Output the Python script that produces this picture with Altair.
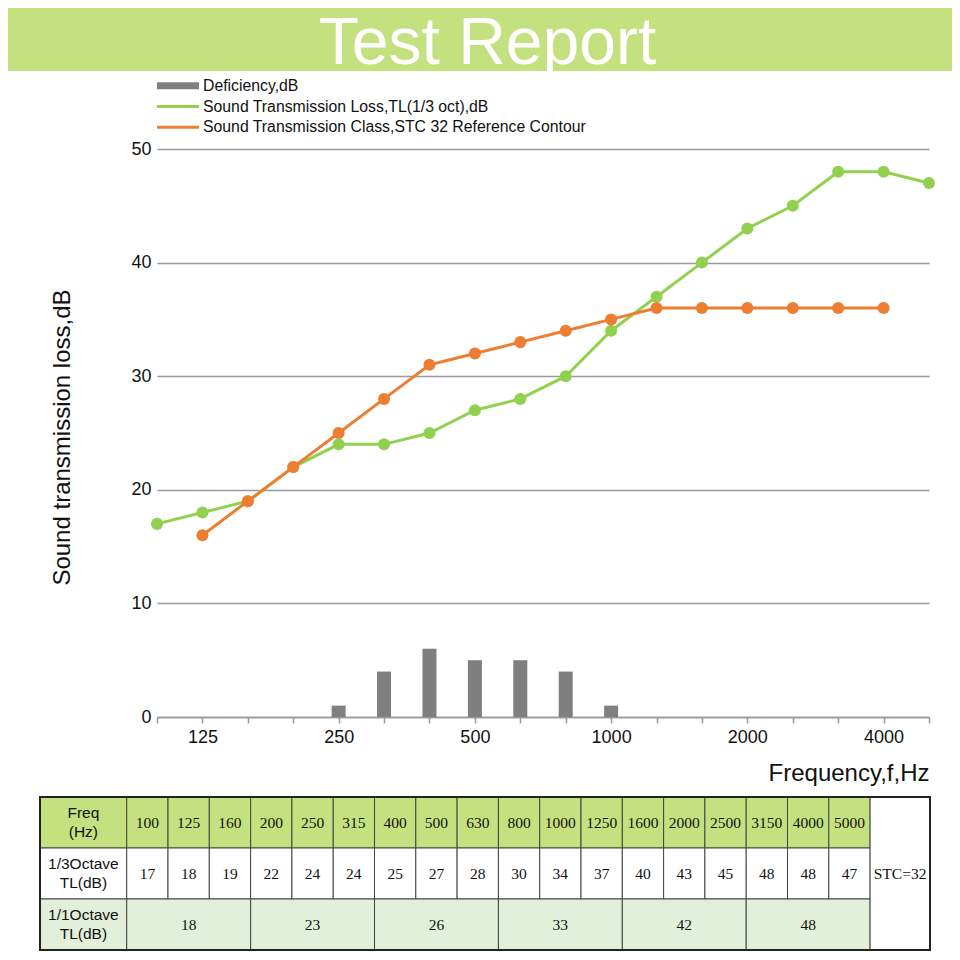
import altair as alt
import pandas as pd

# ---------------- data ----------------
freqs = ["100", "125", "160", "200", "250", "315", "400", "500", "630", "800",
         "1000", "1250", "1600", "2000", "2500", "3150", "4000", "5000"]
tl_values = [17, 18, 19, 22, 24, 24, 25, 27, 28, 30, 34, 37, 40, 43, 45, 48, 48, 47]
stc_freqs = ["125", "160", "200", "250", "315", "400", "500", "630", "800",
             "1000", "1250", "1600", "2000", "2500", "3150", "4000"]
stc_values = [16, 19, 22, 25, 28, 31, 32, 33, 34, 35, 36, 36, 36, 36, 36, 36]
def_freqs = ["250", "315", "400", "500", "630", "800", "1000"]
def_values = [1, 4, 6, 5, 5, 4, 1]
octave_values = [18, 23, 26, 33, 42, 48]
axis_label_freqs = ["125", "250", "500", "1000", "2000", "4000"]
y_ticks = [0, 10, 20, 30, 40, 50]
series_names = ["Deficiency,dB",
                "Sound Transmission Loss,TL(1/3 oct),dB",
                "Sound Transmission Class,STC 32 Reference Contour"]
row_headers = ["Freq\n(Hz)", "1/3Octave\nTL(dB)", "1/1Octave\nTL(dB)"]
stc_label = "STC=32"
title_text = "Test Report"

# ---------------- styles ----------------
GREEN = "#92d050"
ORANGE = "#ed7d31"
GRAY = "#7f7f7f"
BANNER = "#c3e17e"
HEAD_FILL = "#c4e17f"
OCT_FILL = "#e2efd9"
SANS = "Liberation Sans"
SERIF = "Liberation Serif"
W, H = 772, 568

# ---------------- banner ----------------
one = pd.DataFrame({"k": [0]})
banner = alt.Chart(one).mark_rect(color=BANNER).encode(
    x=alt.value(-149), x2=alt.value(795), y=alt.value(-141), y2=alt.value(-78)
)
banner_text = alt.Chart(one).mark_text(
    text=title_text, font=SANS, fontSize=66, color="white",
    align="center", baseline="alphabetic"
).encode(x=alt.value(330.5), y=alt.value(-85))

# ---------------- main plot ----------------
label_expr = ("indexof([" + ",".join("'%s'" % f for f in axis_label_freqs) +
              "], datum.value) >= 0 ? datum.value : ''")
xscale = alt.Scale(type="point", domain=freqs, padding=0)
yscale = alt.Scale(domain=[0, 50], nice=False, zero=True)
xaxis = alt.Axis(
    title="Frequency,f,Hz", labelExpr=label_expr, labelAngle=0, labelOverlap=False,
    labelFont=SANS, labelFontSize=18, labelColor="#111", labelPadding=5,
    tickSize=6, tickColor="#999", tickWidth=1.5, domainColor="#999", domainWidth=1.5,
    grid=False, titleFont=SANS, titleFontSize=24, titleFontWeight="normal",
    titleColor="#111", titleAlign="right", titleBaseline="middle",
    titleX=W, titleY=56
)
yaxis = alt.Axis(
    title="Sound transmission loss,dB", values=y_ticks, domain=False, ticks=False,
    grid=True, gridColor="#999", gridWidth=1.5,
    labelFont=SANS, labelFontSize=18, labelColor="#111", labelPadding=6,
    titleFont=SANS, titleFontSize=24, titleFontWeight="normal", titleColor="#111",
    titleAngle=270, titleX=-95, titleY=H / 2 + 4, titleAlign="center",
    titleBaseline="middle"
)

def_df = pd.DataFrame({"freq": def_freqs, "value": def_values})
tl_df = pd.DataFrame({"freq": freqs, "value": tl_values})
stc_df = pd.DataFrame({"freq": stc_freqs, "value": stc_values})

bars = alt.Chart(def_df).mark_bar(size=14, color=GRAY).encode(
    x=alt.X("freq:N", scale=xscale, axis=xaxis, sort=freqs),
    y=alt.Y("value:Q", scale=yscale, axis=yaxis),
)
tl_line = alt.Chart(tl_df).mark_line(
    color=GREEN, strokeWidth=3,
    point=alt.OverlayMarkDef(size=145, filled=True, color=GREEN, opacity=1)
).encode(
    x=alt.X("freq:N", scale=xscale, axis=xaxis, sort=freqs),
    y=alt.Y("value:Q", scale=yscale, axis=yaxis),
)
stc_line = alt.Chart(stc_df).mark_line(
    color=ORANGE, strokeWidth=3,
    point=alt.OverlayMarkDef(size=145, filled=True, color=ORANGE, opacity=1)
).encode(
    x=alt.X("freq:N", scale=xscale, axis=xaxis, sort=freqs),
    y=alt.Y("value:Q", scale=yscale, axis=yaxis),
)
main = alt.layer(bars, tl_line, stc_line)

# ---------------- legend ----------------
leg_df = pd.DataFrame({"name": series_names})
leg_y = alt.Y("name:N", scale=alt.Scale(type="point", domain=series_names,
                                         range=[-63.3, -21.7], padding=0), axis=None)
leg_sym = alt.Chart(leg_df).mark_rule().encode(
    x=alt.value(0), x2=alt.value(42), y=leg_y,
    color=alt.Color("name:N", scale=alt.Scale(domain=series_names,
                                               range=[GRAY, GREEN, ORANGE]), legend=None),
    strokeWidth=alt.condition("datum.name == '%s'" % series_names[0],
                              alt.value(7), alt.value(3)),
)
leg_txt = alt.Chart(leg_df).mark_text(
    align="left", baseline="middle", font=SANS, fontSize=15.8, color="#111"
).encode(x=alt.value(46), y=leg_y, text="name:N")
legend = alt.layer(leg_sym, leg_txt)

# ---------------- table ----------------
LABEL_W, FREQ_W, STC_W = 2.1, 1.0, 1.45
n = len(freqs)
total_w = LABEL_W + n * FREQ_W + STC_W
cells = []
kinds = ["head", "tl", "oct"]
for r, hdr in enumerate(row_headers):
    cells.append(dict(x0=0, x1=LABEL_W, y0=r, y1=r + 1, kind=kinds[r], text=hdr, font="sans"))
for i, f in enumerate(freqs):
    x0 = LABEL_W + i * FREQ_W
    cells.append(dict(x0=x0, x1=x0 + FREQ_W, y0=0, y1=1, kind="head", text=f, font="serif"))
    cells.append(dict(x0=x0, x1=x0 + FREQ_W, y0=1, y1=2, kind="tl", text=str(tl_values[i]), font="serif"))
for j, v in enumerate(octave_values):
    x0 = LABEL_W + 3 * j * FREQ_W
    cells.append(dict(x0=x0, x1=x0 + 3 * FREQ_W, y0=2, y1=3, kind="oct", text=str(v), font="serif"))
cells.append(dict(x0=LABEL_W + n * FREQ_W, x1=total_w, y0=0, y1=3, kind="tl", text=stc_label, font="serif"))
cell_df = pd.DataFrame(cells)
cell_df["xc"] = (cell_df.x0 + cell_df.x1) / 2
cell_df["yc"] = (cell_df.y0 + cell_df.y1) / 2

tx = alt.Scale(domain=[0, total_w], range=[-117, 773], nice=False, zero=False)
ty = alt.Scale(domain=[0, 3], range=[648, 801], nice=False, zero=False)

cell_rects = alt.Chart(cell_df).mark_rect(stroke="#444", strokeWidth=1).encode(
    x=alt.X("x0:Q", scale=tx, axis=None), x2="x1:Q",
    y=alt.Y("y0:Q", scale=ty, axis=None), y2="y1:Q",
    fill=alt.Fill("kind:N", scale=alt.Scale(domain=["head", "tl", "oct"],
                                            range=[HEAD_FILL, "#ffffff", OCT_FILL]),
                  legend=None),
)
frame_df = pd.DataFrame({"x0": [0], "x1": [total_w], "y0": [0], "y1": [3]})
frame = alt.Chart(frame_df).mark_rect(fillOpacity=0, stroke="#222", strokeWidth=2).encode(
    x=alt.X("x0:Q", scale=tx, axis=None), x2="x1:Q",
    y=alt.Y("y0:Q", scale=ty, axis=None), y2="y1:Q",
)
txt_sans = alt.Chart(cell_df).transform_filter("datum.font == 'sans'").mark_text(
    font=SANS, fontSize=15.5, color="#111", lineBreak="\n", lineHeight=19,
    align="center", baseline="middle", dy=-9.5
).encode(
    x=alt.X("xc:Q", scale=tx, axis=None), y=alt.Y("yc:Q", scale=ty, axis=None),
    text="text:N",
)
txt_serif = alt.Chart(cell_df).transform_filter("datum.font == 'serif'").mark_text(
    font=SERIF, fontSize=15.5, color="#111", align="center", baseline="middle"
).encode(
    x=alt.X("xc:Q", scale=tx, axis=None), y=alt.Y("yc:Q", scale=ty, axis=None),
    text="text:N",
)
table = alt.layer(cell_rects, frame, txt_sans, txt_serif)

chart = alt.layer(
    alt.layer(banner, banner_text), main, legend, table
).resolve_scale(
    x="independent", y="independent", color="independent", fill="independent"
).properties(
    width=W, height=H,
    autosize=alt.AutoSizeParams(type="none"),
    padding={"left": 149, "top": 141, "right": 23, "bottom": 235},
    background="white",
).configure_view(strokeWidth=0)

chart.save("out.html", embed_options={"renderer": "svg", "actions": False})
